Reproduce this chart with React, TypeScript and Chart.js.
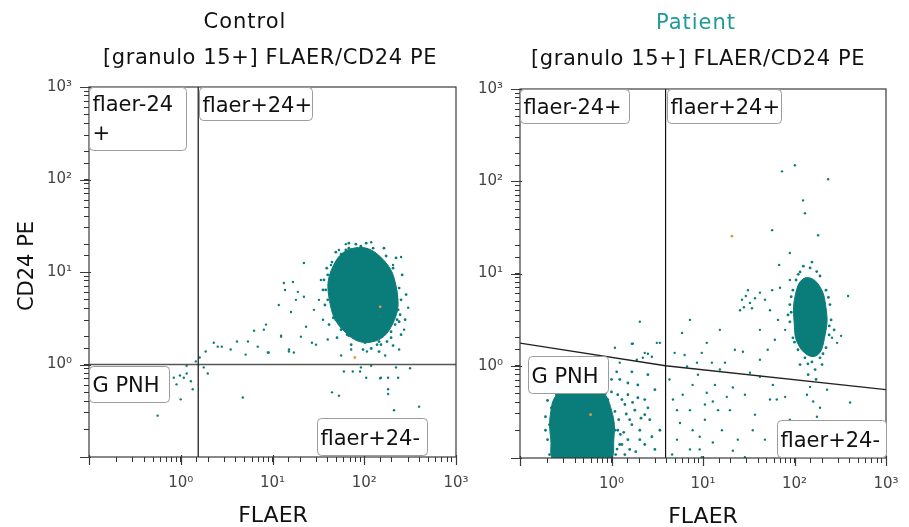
import React, { useEffect, useRef } from "react";
import { Chart, registerables } from "chart.js";

Chart.register(...registerables);

type Pt = [number, number];

// ---------------- axis ----------------
const AXIS_MIN = 0.1;
const AXIS_MAX = 1000;
const DECADES = [0.1, 1, 10, 100, 1000];
const SUPERSCRIPTS = ["\u2070", "\u00B9", "\u00B2", "\u00B3"];

// ---------------- Control (FLAER, CD24 PE) ----------------
const controlCore: Pt[] = [
  [225, 6.5], [204, 2.75], [120, 1.75], [62, 2.23],
  [41.8, 4.9], [46, 11.7], [78.5, 18.2], [152, 14.4],
];
const controlEdge: Pt[] = [
  [63, 17.3], [92, 19], [125, 18.1], [173, 14.9], [206, 11], [240, 6.7], [252, 5.0],
  [246, 3.45], [217, 2.7], [196, 1.95], [152, 1.64], [119, 1.49], [92, 1.86], [68, 2.05],
  [56, 2.7], [46, 3.2], [40, 5.0], [38, 6.4], [40, 9.3], [44.5, 12.8], [56, 15.6], [81, 20],
  [138, 1.64], [177, 1.77], [228, 3.05], [68, 18.1], [107, 17.3], [160, 12.8], [217, 6.4],
  [234, 3.9], [196, 2.26], [145, 1.77], [102, 1.72], [65, 2.1], [49, 3.05], [42, 5.7],
  [44.5, 10], [59, 14.9], [187, 10.5], [56, 2.38],
  [35.5, 6.4], [37.3, 4.4], [41.3, 2.7], [50.5, 1.95], [72, 1.64], [97, 1.45], [145, 1.38],
  [206, 1.6], [252, 2.1], [279, 3.05], [286, 5.7], [259, 9.3], [222, 14.2], [164, 18.1],
  [105, 20.5], [68, 20.5], [49, 16.4], [39, 11], [36.4, 8.2], [46.8, 5.0], [240, 2.9], [92, 1.95],
];
const controlEvents: Pt[] = [
  [1.61, 1.19], [1.78, 0.93], [1.97, 0.8], [2.53, 1.56], [2.8, 1.56], [3.5, 1.45], [4.1, 1.77],
  [5.4, 1.77], [6.9, 1.56], [9.1, 1.35], [12.4, 2.05], [15.1, 1.45], [17.1, 1.35], [20.4, 2.0],
  [29.8, 1.64], [1.87, 1.38], [2.29, 1.72], [13.7, 6.4], [18.9, 6.1], [22, 12.5], [13.3, 7.6],
  [18, 5.0], [23.2, 2.56], [26.9, 1.72], [28.3, 3.9], [33.7, 8.2], [32.1, 5.0], [35.5, 3.05],
  [8.05, 2.38], [5.1, 1.28], [16.7, 7.8], [22, 5.4], [11.7, 4.4], [15.9, 3.7], [8.5, 2.7],
  [6.3, 2.32], [12.4, 2.0], [15.1, 1.38], [8.9, 1.35],
  [0.84, 0.72], [0.98, 0.76], [1.08, 0.72], [1.16, 0.8], [1.29, 0.66], [1.35, 0.54], [1.0, 0.42],
  [0.9, 0.61], [1.46, 1.08], [0.56, 0.28], [1.16, 0.97],
  [4.75, 0.44], [60, 0.84], [75, 0.84], [90, 0.84], [152, 0.72], [182, 0.72], [234, 0.72],
  [316, 0.91], [182, 0.54], [182, 0.48], [44.5, 0.5], [53, 0.46], [211, 0.32], [396, 0.35],
  [105, 0.72], [149, 0.71], [119, 0.97], [222, 0.93], [92, 0.93],
  [252, 14.5], [301, 4.1], [63, 20], [119, 21], [206, 11.9], [272, 2.38], [40, 1.86],
  [43.4, 11.9], [53, 17.3], [240, 1.45], [107, 1.38], [72, 1.45], [169, 1.25], [56, 1.25],
];
const controlOrange: Pt[] = [[149, 4.2], [79, 1.19]];
const controlGateFlaer: Pt[] = [[1.55, 0.1], [1.55, 1000]];
const controlGateCD24: Pt[] = [[0.1, 1.0], [1000, 1.0]];

// ---------------- Patient (FLAER, CD24 PE) ----------------
const patientPnhCore: Pt[] = [
  [0.4, 0.61], [0.74, 0.55], [1.0, 0.33], [1.06, 0.158], [0.91, 0.092],
  [0.246, 0.092], [0.217, 0.158], [0.217, 0.32], [0.26, 0.5],
];
const patientPnhEdge: Pt[] = [
  [0.35, 0.61], [0.51, 0.64], [0.71, 0.55], [0.91, 0.43], [1.09, 0.32], [1.17, 0.2], [1.23, 0.14],
  [1.11, 0.109], [0.21, 0.109], [0.2, 0.158], [0.21, 0.23], [0.22, 0.35], [0.25, 0.485],
  [1.58, 0.26], [2.04, 0.2], [1.51, 0.158], [1.8, 0.33], [2.31, 0.14], [1.4, 0.109], [2.62, 0.26],
  [1.3, 0.43], [1.0, 0.52], [0.58, 0.67], [0.4, 0.65], [0.27, 0.55], [0.23, 0.124],
  [1.23, 0.71], [1.51, 0.485], [1.94, 0.62], [2.31, 0.43], [2.98, 0.55], [3.38, 0.2],
  [2.98, 0.124], [2.5, 0.8], [1.67, 0.86], [1.36, 0.19], [1.84, 0.117], [1.0, 0.71], [0.74, 0.71],
  [1.17, 0.485], [1.4, 0.38], [1.67, 0.23], [2.04, 0.158], [1.3, 0.14], [1.09, 0.2],
  [1.58, 0.124], [2.31, 0.295], [2.76, 0.17], [1.94, 0.45], [1.51, 0.65], [1.14, 0.86],
  [0.19, 0.2], [0.19, 0.28], [0.2, 0.42], [0.3, 0.7], [0.46, 0.72], [0.64, 0.6], [0.86, 0.5],
  [1.2, 0.26], [1.25, 0.18], [1.45, 0.3], [1.7, 0.4], [2.1, 0.27], [2.5, 0.35], [1.15, 0.125],
];
const patientUpperCore: Pt[] = [
  [130, 8.9], [181, 7.7], [221, 4.24], [216, 2.16], [172, 1.28], [115, 1.57], [99, 2.99], [104, 6.3],
];
const patientUpperEdge: Pt[] = [
  [115, 10.4], [148, 11.5], [190, 9.4], [221, 6.6], [244, 4.6], [251, 3.14], [239, 2.16],
  [221, 1.57], [190, 1.22], [155, 1.1], [130, 1.22], [109, 1.49], [96, 2.01], [89, 2.99],
  [89, 4.6], [96, 6.6], [104, 8.5], [168, 0.91], [141, 0.8], [200, 1.03], [115, 1.03],
  [172, 0.71], [85, 3.56], [271, 2.45], [155, 13.3], [125, 12], [175, 10.5], [235, 5.5],
  [240, 2.7], [205, 1.35], [140, 1.05], [100, 1.8], [92, 3.8], [92, 5.6], [110, 9.8],
];
const patientEvents: Pt[] = [
  [1.71, 1.73], [3.38, 1.77], [2.2, 1.22], [2.5, 1.35], [6.7, 0.98], [7.7, 0.62], [11, 0.51],
  [12.8, 0.41], [14.6, 0.33], [18.2, 0.46], [21.2, 0.58], [27.3, 1.42], [32.6, 0.84], [41.9, 0.76],
  [58, 0.62], [64, 0.43], [79, 0.46], [5.2, 0.33], [5.6, 0.24], [7.7, 0.2], [9.2, 0.17],
  [12.8, 0.147], [21.2, 0.12], [5.2, 0.158], [4.7, 0.43], [11, 1.77], [17.4, 1.08], [35, 0.2],
  [137, 0.485], [160, 0.41], [190, 0.35], [148, 0.59], [227, 0.55], [405, 0.4], [176, 0.28],
  [79, 0.2], [292, 1.77], [257, 2.01], [1.09, 1.57], [1.67, 1.73], [3.13, 1.77], [2.31, 1.38],
  [2.76, 1.25], [1.89, 1.16], [1.23, 1.08], [5.9, 2.27], [4.9, 1.38], [6.3, 1.31], [8.6, 1.08],
  [9.7, 1.38], [12.5, 1.08],
  [4.3, 0.71], [6.0, 0.485], [7.2, 0.33], [8.8, 0.8], [10.5, 0.26], [13.5, 0.62], [16.1, 0.2],
  [19.7, 0.33], [24, 0.158], [28.7, 0.485], [37, 0.295], [47.5, 0.158], [54, 0.43], [89, 0.26],
  [109, 0.14], [4.6, 0.109], [7.2, 0.124], [10.5, 0.38], [15.3, 0.91], [41.9, 1.16], [9.2, 0.124],
  [7.2, 3.14], [15.3, 2.45], [2.04, 3.0], [41.9, 2.45], [22.3, 1.49],
  [26.7, 5.2], [29.4, 5.7], [32.6, 4.8], [34.3, 4.2], [28, 4.3], [37, 5.4], [25.4, 4.0],
  [41.9, 6.2], [31, 6.6], [47.6, 5.2], [54, 4.0], [66, 3.14], [79, 2.45], [61, 1.91], [51, 1.49],
  [69.5, 7.0], [89, 8.5], [57, 6.6],
  [73, 128], [101, 149], [233, 105], [124, 62], [130, 45], [57, 29.5], [181, 26], [89, 16.7],
  [68, 12.4], [385, 5.7], [323, 2.11],
  [101, 0.102], [155, 0.102], [244, 0.102], [427, 0.102], [671, 0.102], [9.7, 0.102], [28.7, 0.102],
];
const patientOrange: Pt[] = [[20.7, 25.4], [0.59, 0.295]];
const patientGateFlaer: Pt[] = [[3.9, 0.1], [3.9, 1000]];
const patientGateCD24: Pt[] = [[0.1, 1.76], [3.9, 1.0], [1000, 0.55]];

// ---------------- styling / layout ----------------
const TEAL = "#0a7c7a";
const ORANGE = "#e39a3b";
const FONT = "'DejaVu Sans', Verdana, sans-serif";

interface Box { lines: string[]; ax: number; ay: number; dx: number; dy: number; w: number; h: number }
interface Gate { points: Pt[]; color: string; width: number }
interface Panel {
  width: number; padTop: number; padRight: number; yWidth: number; xHeight: number;
  title: string; titleColor: string; titleX: number; titleY: number;
  subtitle: string; subtitleX: number; subtitleY: number;
  xTitle: string; xTitleX: number; xTitleY: number;
  yTitle?: string; yTitleX?: number; yTitleY?: number;
  cores: Pt[][]; edge: Pt[]; events: Pt[]; orange: Pt[];
  gates: Gate[]; boxes: Box[];
}

const controlPanel: Panel = {
  width: 476, padTop: 87, padRight: 20, yWidth: 89, xHeight: 70,
  title: "Control", titleColor: "#111111", titleX: 245, titleY: 28,
  subtitle: "[granulo 15+] FLAER/CD24 PE", subtitleX: 270, subtitleY: 64,
  xTitle: "FLAER", xTitleX: 273, xTitleY: 522,
  yTitle: "CD24 PE", yTitleX: 33, yTitleY: 266,
  cores: [controlCore], edge: controlEdge, events: controlEvents, orange: controlOrange,
  gates: [
    { points: controlGateFlaer, color: "#111111", width: 1.2 },
    { points: controlGateCD24, color: "#555555", width: 1.6 },
  ],
  boxes: [
    { lines: ["flaer-24", "+"], ax: 0.1, ay: 1000, dx: 0, dy: 0, w: 97, h: 63 },
    { lines: ["flaer+24+"], ax: 1.55, ay: 1000, dx: 1, dy: 0, w: 113, h: 33 },
    { lines: ["G PNH"], ax: 0.1, ay: 1, dx: 0, dy: 1, w: 80, h: 36 },
    { lines: ["flaer+24-"], ax: 1000, ay: 0.1, dx: -139, dy: -39, w: 110, h: 37 },
  ],
};

const patientPanel: Panel = {
  width: 449, padTop: 89, padRight: 23, yWidth: 60, xHeight: 69,
  title: "Patient", titleColor: "#1e9a98", titleX: 236, titleY: 29,
  subtitle: "[granulo 15+] FLAER/CD24 PE", subtitleX: 238, subtitleY: 65,
  xTitle: "FLAER", xTitleX: 243, xTitleY: 523,
  cores: [patientPnhCore, patientUpperCore], edge: [...patientPnhEdge, ...patientUpperEdge],
  events: patientEvents, orange: patientOrange,
  gates: [
    { points: patientGateFlaer, color: "#111111", width: 1.2 },
    { points: patientGateCD24, color: "#222222", width: 1.3 },
  ],
  boxes: [
    { lines: ["flaer-24+"], ax: 0.1, ay: 1000, dx: 0, dy: 0, w: 109, h: 34 },
    { lines: ["flaer+24+"], ax: 3.9, ay: 1000, dx: 1, dy: 0, w: 114, h: 34 },
    { lines: ["G PNH"], ax: 0.1, ay: 1, dx: 8, dy: -10, w: 80, h: 37 },
    { lines: ["flaer+24-"], ax: 1000, ay: 0.1, dx: -109, dy: -38, w: 109, h: 37 },
  ],
};

function decadeLabel(v: number): string {
  const e = Math.log10(v);
  const r = Math.round(e);
  if (Math.abs(e - r) < 1e-6 && r >= 0 && r < SUPERSCRIPTS.length) return "10" + SUPERSCRIPTS[r];
  return "";
}

const toXY = (pts: Pt[]) => pts.map(([x, y]) => ({ x, y }));

function makeOverlay(p: Panel) {
  return {
    id: "panelOverlay",
    afterDraw(chart: any) {
      const ctx: CanvasRenderingContext2D = chart.ctx;
      const { left, top, right, bottom } = chart.chartArea;
      const xs = chart.scales.x;
      const ys = chart.scales.y;
      ctx.save();
      ctx.strokeStyle = "#3a3a3a";
      ctx.lineWidth = 1.2;
      ctx.strokeRect(left, top, right - left, bottom - top);
      ctx.beginPath();
      for (const v of DECADES) {
        const px = Math.round(xs.getPixelForValue(v)) + 0.5;
        ctx.moveTo(px, bottom - 2);
        ctx.lineTo(px, bottom + 8);
        const py = Math.round(ys.getPixelForValue(v)) + 0.5;
        ctx.moveTo(left - 9, py);
        ctx.lineTo(left + 2, py);
      }
      ctx.stroke();
      for (const b of p.boxes) {
        const x0 = Math.round(xs.getPixelForValue(b.ax) + b.dx) + 0.5;
        const y0 = Math.round(ys.getPixelForValue(b.ay) + b.dy) + 0.5;
        ctx.beginPath();
        (ctx as any).roundRect(x0, y0, b.w, b.h, 4);
        ctx.fillStyle = "#ffffff";
        ctx.fill();
        ctx.strokeStyle = "#9c9c9c";
        ctx.lineWidth = 1;
        ctx.stroke();
        ctx.fillStyle = "#111111";
        ctx.font = `21px ${FONT}`;
        ctx.textAlign = "left";
        ctx.textBaseline = "alphabetic";
        if (b.lines.length === 1) {
          ctx.fillText(b.lines[0], x0 + 3, y0 + b.h / 2 + 7.5);
        } else {
          b.lines.forEach((ln, i) => ctx.fillText(ln, x0 + 3, y0 + 23 + i * 29));
        }
      }
      ctx.textAlign = "center";
      ctx.textBaseline = "alphabetic";
      (ctx as any).letterSpacing = "1px";
      ctx.font = `21px ${FONT}`;
      ctx.fillStyle = p.titleColor;
      ctx.fillText(p.title, p.titleX, p.titleY);
      (ctx as any).letterSpacing = "0.6px";
      ctx.fillStyle = "#111111";
      ctx.fillText(p.subtitle, p.subtitleX, p.subtitleY);
      (ctx as any).letterSpacing = "0px";
      ctx.font = `22px ${FONT}`;
      ctx.fillText(p.xTitle, p.xTitleX, p.xTitleY);
      if (p.yTitle) {
        ctx.save();
        ctx.translate(p.yTitleX as number, p.yTitleY as number);
        ctx.rotate(-Math.PI / 2);
        ctx.font = `21px ${FONT}`;
        ctx.fillText(p.yTitle, 0, 0);
        ctx.restore();
      }
      ctx.restore();
    },
  };
}

function axisOptions(p: Panel, axis: "x" | "y") {
  return {
    type: "logarithmic",
    min: AXIS_MIN,
    max: AXIS_MAX,
    afterFit: (s: any) => {
      if (axis === "x") s.height = p.xHeight;
      else s.width = p.yWidth;
      s.paddingLeft = 0;
      s.paddingRight = 0;
      s.paddingTop = 0;
      s.paddingBottom = 0;
    },
    border: { display: false },
    grid: { drawOnChartArea: false, drawTicks: true, tickLength: 5, color: "#333333", lineWidth: 1 },
    ticks: {
      autoSkip: false,
      maxRotation: 0,
      minRotation: 0,
      padding: 12,
      color: "#444444",
      font: { family: FONT, size: 15 },
      callback: (v: any) => decadeLabel(Number(v)),
    },
  };
}

function closedLoop(c: Pt[]): Pt[] {
  return [c[c.length - 1], ...c, c[0], c[1]];
}

function buildConfig(p: Panel): any {
  const datasets: any[] = [
    ...p.gates.map((g) => ({
      data: toXY(g.points), showLine: true, borderColor: g.color, borderWidth: g.width,
      pointRadius: 0, fill: false, order: 0,
    })),
    { data: toXY(p.orange), pointRadius: 1.4, backgroundColor: ORANGE, borderWidth: 0, order: 1 },
    { data: toXY(p.events), pointRadius: 1.2, backgroundColor: TEAL, borderWidth: 0, order: 2 },
    { data: toXY(p.edge), pointRadius: 1.4, backgroundColor: TEAL, borderWidth: 0, order: 3 },
    ...p.cores.map((c) => ({
      data: toXY(closedLoop(c)), showLine: true, fill: "shape", tension: 0.45,
      backgroundColor: TEAL, borderColor: TEAL, borderWidth: 1, pointRadius: 0, order: 4,
    })),
  ];
  return {
    type: "scatter",
    data: { datasets },
    options: {
      responsive: false,
      animation: false,
      devicePixelRatio: 1,
      events: [],
      layout: { padding: { top: p.padTop, right: p.padRight, left: 0, bottom: 0 } },
      plugins: { legend: { display: false }, tooltip: { enabled: false }, title: { display: false } },
      scales: { x: axisOptions(p, "x"), y: axisOptions(p, "y") },
    },
    plugins: [makeOverlay(p)],
  };
}

function PanelChart({ panel, left }: { panel: Panel; left: number }) {
  const ref = useRef<HTMLCanvasElement | null>(null);
  useEffect(() => {
    if (!ref.current) return;
    const chart = new Chart(ref.current, buildConfig(panel));
    return () => chart.destroy();
  }, [panel]);
  return (
    <canvas
      ref={ref}
      width={panel.width}
      height={527}
      style={{ position: "absolute", left, top: 0, width: panel.width, height: 527 }}
    />
  );
}

export default function App() {
  return (
    <div style={{ position: "absolute", left: 0, top: 0, width: 909, height: 527, background: "#ffffff", overflow: "hidden" }}>
      <PanelChart panel={controlPanel} left={0} />
      <PanelChart panel={patientPanel} left={460} />
    </div>
  );
}
